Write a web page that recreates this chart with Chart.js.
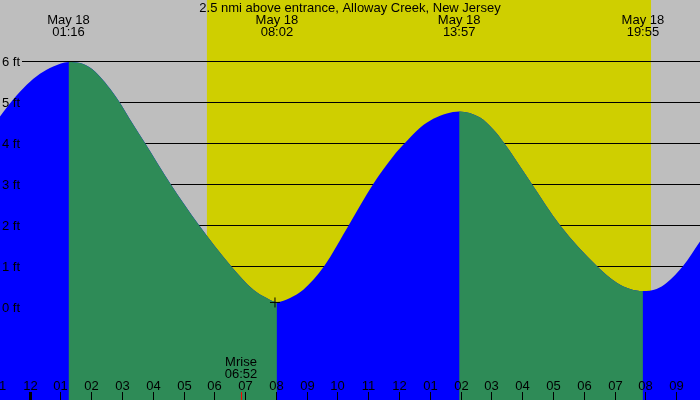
<!DOCTYPE html>
<html>
<head>
<meta charset="utf-8">
<script src="https://cdn.jsdelivr.net/npm/chart.js@4"></script>
<style>
  html, body { margin: 0; padding: 0; background: #bebebe; }
  canvas { display: block; }
</style>
</head>
<body>
<canvas id="tideChart" width="700" height="400"></canvas>
<script>
// hours since midnight May 18, height in feet
var tideHours = [-0.958, -0.53, -0.09, 0.34, 0.77, 1.267, 1.64, 1.96, 2.29, 2.61, 2.92, 3.27, 3.75, 4.58, 5.50,
                 6.54, 7.27, 7.70, 8.033, 8.46, 8.89, 9.57, 10.37, 11.16, 11.81, 12.19, 12.68, 13.11, 13.55,
                 13.95, 14.63, 15.06, 15.41, 16.31, 17.22, 18.42, 19.07, 19.50, 19.917, 20.36, 20.69, 21.22, 21.77];
var tideFeet = [4.65, 5.06, 5.42, 5.69, 5.87, 5.98, 5.95, 5.84, 5.62, 5.33, 5.0, 4.57, 4.0, 3.0, 2.0,
                1.0, 0.42, 0.22, 0.12, 0.22, 0.42, 1.0, 2.0, 3.0, 3.68, 4.0, 4.37, 4.59, 4.72,
                4.77, 4.62, 4.33, 4.0, 3.0, 2.0, 1.0, 0.59, 0.44, 0.39, 0.44, 0.59, 1.0, 1.6];

var extremeHours = [1 + 16 / 60, 8 + 2 / 60, 13 + 57 / 60, 19 + 55 / 60];
var extremeLabels = ['01:16', '08:02', '13:57', '19:55'];
var extremeDate = 'May 18';

var daylight = [5.76, 20.18];       // sunrise, sunset
var moonrise = 6 + 52 / 60;
var moonriseLabel = '06:52';
var markerHours = [7.97];
var markerFeet = [0.11];

var feetTicks = [0, 1, 2, 3, 4, 5, 6];
var hourRange = [-0.958, 21.77];
var feetRange = [-2.27, 7.49];

var title = '2.5 nmi above entrance, Alloway Creek, New Jersey';

var FONT = '13px "Liberation Sans", Arial, sans-serif';

function hourLabel(h) {
    var v = ((h % 12) + 12) % 12;
    if (v === 0) v = 12;
    return (v < 10 ? '0' : '') + v;
}

var tideArt = {
    id: 'tideArt',
    beforeDatasetsDraw: function (chart) {
        var ctx = chart.ctx, a = chart.chartArea, x = chart.scales.x, y = chart.scales.y;
        ctx.save();
        ctx.fillStyle = '#bebebe';
        ctx.fillRect(a.left, a.top, a.right - a.left, a.bottom - a.top);
        var d0 = x.getPixelForValue(daylight[0]), d1 = x.getPixelForValue(daylight[1]);
        ctx.fillStyle = '#cfcf00';
        ctx.fillRect(d0, a.top, d1 - d0, a.bottom - a.top);
        ctx.strokeStyle = '#000';
        ctx.lineWidth = 1;
        feetTicks.forEach(function (f) {
            var py = Math.round(y.getPixelForValue(f)) + 0.5;
            ctx.beginPath();
            ctx.moveTo(22, py);
            ctx.lineTo(a.right, py);
            ctx.stroke();
        });
        ctx.restore();
    },
    afterDatasetsDraw: function (chart) {
        var ctx = chart.ctx, a = chart.chartArea, x = chart.scales.x, y = chart.scales.y;
        ctx.save();
        ctx.font = FONT;
        ctx.fillStyle = '#000';

        // feet labels
        ctx.textAlign = 'left';
        ctx.textBaseline = 'middle';
        feetTicks.forEach(function (f) {
            ctx.fillText(f + ' ft', 2, y.getPixelForValue(f) + 1);
        });

        // hour ticks along the bottom
        ctx.textAlign = 'center';
        ctx.textBaseline = 'alphabetic';
        for (var h = Math.ceil(hourRange[0]) - 1; h <= Math.floor(hourRange[1]) + 1; h++) {
            var px = Math.round(x.getPixelForValue(h));
            ctx.fillStyle = '#000';
            if (h % 24 === 0) ctx.fillRect(px - 1, 392, 3, 8);
            else ctx.fillRect(px, 392, 1, 8);
            ctx.fillText(hourLabel(h), px + 0.5, 390);
        }

        // moonrise
        var mx = Math.round(x.getPixelForValue(moonrise));
        ctx.fillStyle = '#ff0000';
        ctx.fillRect(mx, 392, 1, 8);
        ctx.fillStyle = '#000';
        ctx.fillText('Mrise', mx, 366);
        ctx.fillText(moonriseLabel, mx, 378);

        // high / low tide times
        extremeHours.forEach(function (h, i) {
            var ex = x.getPixelForValue(h);
            ctx.fillText(extremeDate, ex, 24);
            ctx.fillText(extremeLabels[i], ex, 36);
        });

        ctx.fillText(title, (a.left + a.right) / 2, 12);
        ctx.restore();
    }
};

document.addEventListener('DOMContentLoaded', function () {
    var points = tideHours.map(function (h, i) { return {x: h, y: tideFeet[i]}; });
    var marks = markerHours.map(function (h, i) { return {x: h, y: markerFeet[i]}; });

    var ctx = document.getElementById('tideChart').getContext('2d');
    var tideChart = new Chart(ctx, {
        type: 'line',
        data: {
            datasets: [{
                // the + mark near low water
                data: marks,
                showLine: false,
                pointStyle: 'cross',
                pointRadius: 5,
                borderColor: '#000',
                borderWidth: 1,
                order: 0
            }, {
                // falling tide painted green over the blue
                data: points,
                fill: 'start',
                backgroundColor: '#2e8b57',
                borderWidth: 0,
                borderColor: 'rgba(0,0,0,0)',
                pointRadius: 0,
                cubicInterpolationMode: 'monotone',
                segment: {
                    backgroundColor: function (c) {
                        return c.p1.parsed.y > c.p0.parsed.y ? 'rgba(0,0,0,0)' : '#2e8b57';
                    }
                },
                order: 1
            }, {
                // whole water area in blue (rising tide colour)
                data: points,
                fill: 'start',
                backgroundColor: '#0000ff',
                borderWidth: 0,
                borderColor: 'rgba(0,0,0,0)',
                pointRadius: 0,
                cubicInterpolationMode: 'monotone',
                order: 2
            }]
        },
        options: {
            responsive: false,
            animation: false,
            devicePixelRatio: 1,
            layout: { padding: 0, autoPadding: false },
            plugins: { legend: { display: false }, tooltip: { enabled: false }, title: { display: false } },
            scales: {
                x: { type: 'linear', min: hourRange[0], max: hourRange[1], display: false },
                y: { type: 'linear', min: feetRange[0], max: feetRange[1], display: false }
            }
        },
        plugins: [tideArt]
    });
});
</script>
</body>
</html>
